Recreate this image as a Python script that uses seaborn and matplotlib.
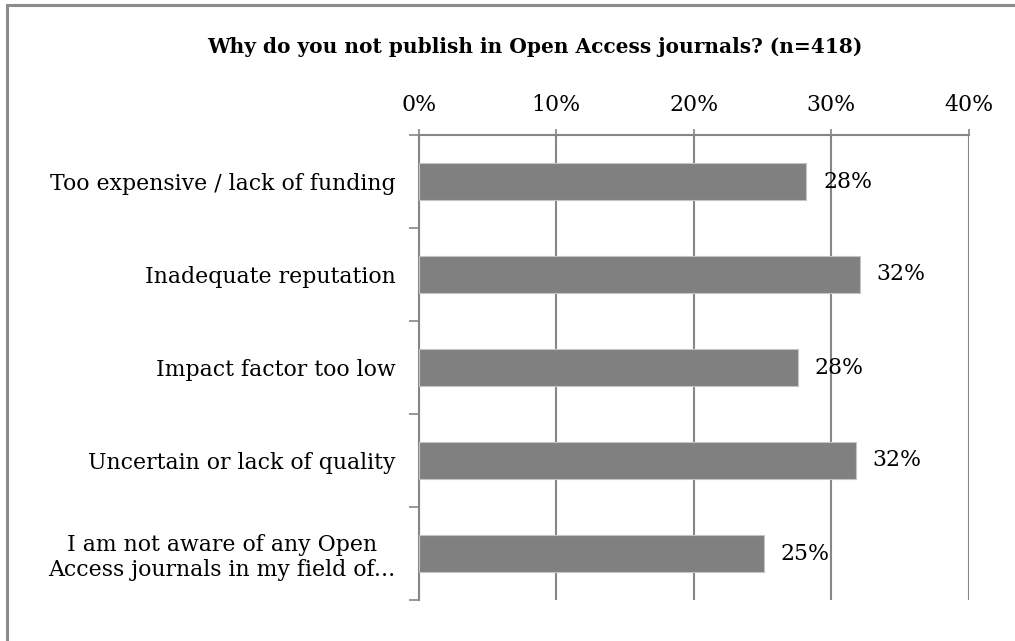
import matplotlib
matplotlib.use("Agg")
import matplotlib.pyplot as plt
import seaborn as sns
import pandas as pd
from matplotlib.patches import Rectangle
from matplotlib.ticker import FixedLocator

# Survey data: reasons for not publishing in Open Access journals
reasons = [
    "Too expensive / lack of funding",
    "Inadequate reputation",
    "Impact factor too low",
    "Uncertain or lack of quality",
    "I am not aware of any Open\nAccess journals in my field of...",
]
shares = [28.2, 32.1, 27.6, 31.8, 25.1]
x_ticks = [0, 10, 20, 30, 40]
title = "Why do you not publish in Open Access journals? (n=418)"

df = pd.DataFrame({"reason": reasons, "share": shares})

sns.set_theme(style="white")
plt.rcParams["font.family"] = ["DejaVu Serif", "Liberation Serif"]
plt.rcParams["text.color"] = "black"
plt.rcParams["xtick.labelcolor"] = "black"
plt.rcParams["ytick.labelcolor"] = "black"

GRAY = "#868686"
FS = 15.8

fig = plt.figure(figsize=(10.15, 6.41), dpi=100)
ax = fig.add_axes([419 / 1015, 1 - 600 / 641, (968.5 - 419) / 1015, (600 - 135) / 641])

sns.barplot(data=df, x="share", y="reason", orient="h", color="#808080",
            saturation=1, width=0.4, edgecolor="#c4c4c4", linewidth=0.8,
            ax=ax, zorder=3)

ax.set_xlim(0, 40)
ax.set_ylim(len(reasons) - 0.5, -0.5)

# value axis on top with percentage labels
ax.xaxis.tick_top()
ax.set_xticks(x_ticks)
ax.set_xticklabels([f"{t}%" for t in x_ticks], fontsize=FS)
ax.tick_params(axis="x", which="major", direction="out", length=4, width=1.2,
               color=GRAY, pad=10, top=True, bottom=False)
ax.xaxis.grid(True, color=GRAY, linewidth=1.5, zorder=0)
ax.yaxis.grid(False)
ax.set_axisbelow(True)

# category labels, tick marks placed between categories
ax.tick_params(axis="y", which="major", length=0, pad=17)
ax.yaxis.set_minor_locator(FixedLocator([i - 0.5 for i in range(len(reasons) + 1)]))
ax.tick_params(axis="y", which="minor", direction="out", length=7, width=1.2,
               color=GRAY, left=True)
for lbl in ax.get_yticklabels():
    lbl.set_fontsize(FS)
    lbl.set_multialignment("center")
    lbl.set_linespacing(1.15)

ax.set_xlabel("")
ax.set_ylabel("")

for side in ["right", "bottom"]:
    ax.spines[side].set_visible(False)
for side in ["left", "top"]:
    ax.spines[side].set_color(GRAY)
    ax.spines[side].set_linewidth(1.5)

# value labels beside each bar
for i, v in enumerate(shares):
    ax.annotate(f"{v:.0f}%", xy=(v, i), xytext=(12, 0), textcoords="offset points",
                ha="left", va="center", fontsize=FS, color="black")

fig.suptitle(title, x=0.527, y=1 - 47 / 641, va="center", fontsize=14.5,
             fontweight="bold", color="black")

# chart frame
fig.patches.append(Rectangle((7 / 1015, -0.1), 1.2, 1 - 5 / 641 + 0.1,
                             transform=fig.transFigure, fill=False,
                             edgecolor="#8c8c8c", linewidth=2.2))

fig.savefig("out.png", dpi=100)
